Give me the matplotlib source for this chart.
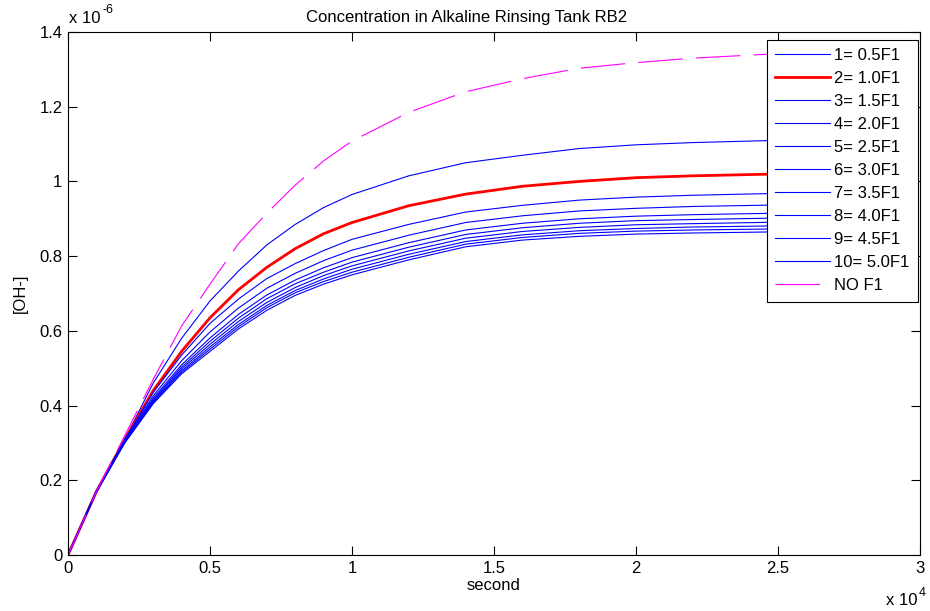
#!/usr/bin/env python3
import numpy as np
import matplotlib.pyplot as plt

plt.rcParams['font.family'] = ['Liberation Sans', 'DejaVu Sans']
plt.rcParams['font.size'] = 12

# time axis (s)
t = [0, 1000, 2000, 3000, 4000, 5000, 6000, 7000, 8000, 9000, 10000,
     12000, 14000, 16000, 18000, 20000, 22000, 25000]

# [OH-] in units of 1e-6
c_1 = [0, 0.17, 0.31, 0.46, 0.58, 0.68, 0.76, 0.83, 0.885, 0.93, 0.965,
       1.015, 1.05, 1.07, 1.088, 1.098, 1.104, 1.11]
c_2 = [0, 0.17, 0.31, 0.44, 0.545, 0.635, 0.71, 0.77, 0.82, 0.86, 0.89,
       0.935, 0.966, 0.987, 1.0, 1.01, 1.015, 1.02]
c_3 = [0, 0.172, 0.31, 0.435, 0.535, 0.62, 0.685, 0.74, 0.78, 0.815, 0.845,
       0.885, 0.918, 0.936, 0.95, 0.958, 0.963, 0.968]
c_4 = [0, 0.171, 0.308, 0.426, 0.52, 0.597, 0.661, 0.714, 0.754, 0.788, 0.816,
       0.856, 0.89, 0.908, 0.921, 0.928, 0.933, 0.937]
c_5 = [0, 0.171, 0.306, 0.42, 0.509, 0.581, 0.644, 0.696, 0.736, 0.769, 0.796,
       0.836, 0.87, 0.888, 0.9, 0.907, 0.911, 0.915]
c_6 = [0, 0.17, 0.305, 0.416, 0.503, 0.572, 0.634, 0.686, 0.726, 0.757, 0.784,
       0.824, 0.858, 0.876, 0.888, 0.895, 0.898, 0.902]
c_7 = [0, 0.17, 0.303, 0.413, 0.498, 0.564, 0.625, 0.676, 0.716, 0.748, 0.774,
       0.814, 0.848, 0.866, 0.877, 0.884, 0.887, 0.891]
c_8 = [0, 0.169, 0.302, 0.41, 0.493, 0.557, 0.617, 0.668, 0.708, 0.739, 0.765,
       0.805, 0.839, 0.857, 0.868, 0.874, 0.878, 0.881]
c_9 = [0, 0.169, 0.301, 0.407, 0.489, 0.551, 0.611, 0.662, 0.702, 0.732, 0.757,
       0.797, 0.832, 0.85, 0.861, 0.867, 0.87, 0.873]
c_10 = [0, 0.168, 0.30, 0.405, 0.485, 0.545, 0.605, 0.655, 0.695, 0.725, 0.75,
        0.79, 0.825, 0.843, 0.853, 0.859, 0.862, 0.865]
c_nof1 = [0, 0.17, 0.32, 0.47, 0.613, 0.725, 0.833, 0.915, 0.99, 1.055, 1.108,
          1.185, 1.24, 1.275, 1.303, 1.318, 1.33, 1.342]

labels = ['1= 0.5F1', '2= 1.0F1', '3= 1.5F1', '4= 2.0F1', '5= 2.5F1',
          '6= 3.0F1', '7= 3.5F1', '8= 4.0F1', '9= 4.5F1', '10= 5.0F1', 'NO F1']
series = [c_1, c_2, c_3, c_4, c_5, c_6, c_7, c_8, c_9, c_10, c_nof1]

fig = plt.figure(figsize=(9.3, 6.11), dpi=100)
ax = fig.add_axes([68 / 930, 56 / 611, 852 / 930, 523 / 611])

tt = np.array(t)
for vals, lab in zip(series, labels):
    y = np.array(vals) * 1e-6
    if lab == 'NO F1':
        ax.plot(tt, y, color='#ff00ff', lw=0.8, dashes=(40, 12), label=lab)
    elif lab.startswith('2='):
        ax.plot(tt, y, color='#ff0000', lw=2.0, label=lab)
    else:
        ax.plot(tt, y, color='#0000ff', lw=0.8, label=lab)

ax.set_xlim(0, 3e4)
ax.set_ylim(0, 1.4e-6)
ax.set_xticks(np.arange(0, 3.01e4, 5e3))
ax.set_xticklabels(['0', '0.5', '1', '1.5', '2', '2.5', '3'])
ax.set_yticks(np.arange(0, 1.41e-6, 0.2e-6))
ax.set_yticklabels(['0', '0.2', '0.4', '0.6', '0.8', '1', '1.2', '1.4'])
ax.tick_params(direction='in', top=True, right=True, length=6.5, width=0.8,
               labelsize=12, pad=4)
for s in ax.spines.values():
    s.set_linewidth(0.8)

# MATLAB style exponent labels
ax.text(0.001, 1.012, 'x 10', transform=ax.transAxes, fontsize=12,
        ha='left', va='bottom')
ax.text(0.041, 1.03, '-6', transform=ax.transAxes, fontsize=9,
        ha='left', va='bottom')
ax.text(0.9975, -0.072, 'x 10', transform=ax.transAxes, fontsize=12,
        ha='right', va='top')
ax.text(0.9985, -0.062, '4', transform=ax.transAxes, fontsize=9,
        ha='left', va='top')

ax.set_title('Concentration in Alkaline Rinsing Tank RB2', fontsize=12,
             pad=7, x=0.468)
ax.set_xlabel('second', fontsize=12, labelpad=2)
ax.set_ylabel('[OH-]', fontsize=12, labelpad=8)

leg = ax.legend(loc='upper right', fontsize=12, frameon=True, fancybox=False,
                edgecolor='black', framealpha=1, handlelength=3.3,
                handletextpad=0.25, labelspacing=0.48, borderpad=0.5,
                borderaxespad=0.0, bbox_to_anchor=(0.9975, 0.985))
leg.get_frame().set_linewidth(0.8)

fig.savefig('out.png', dpi=100)
